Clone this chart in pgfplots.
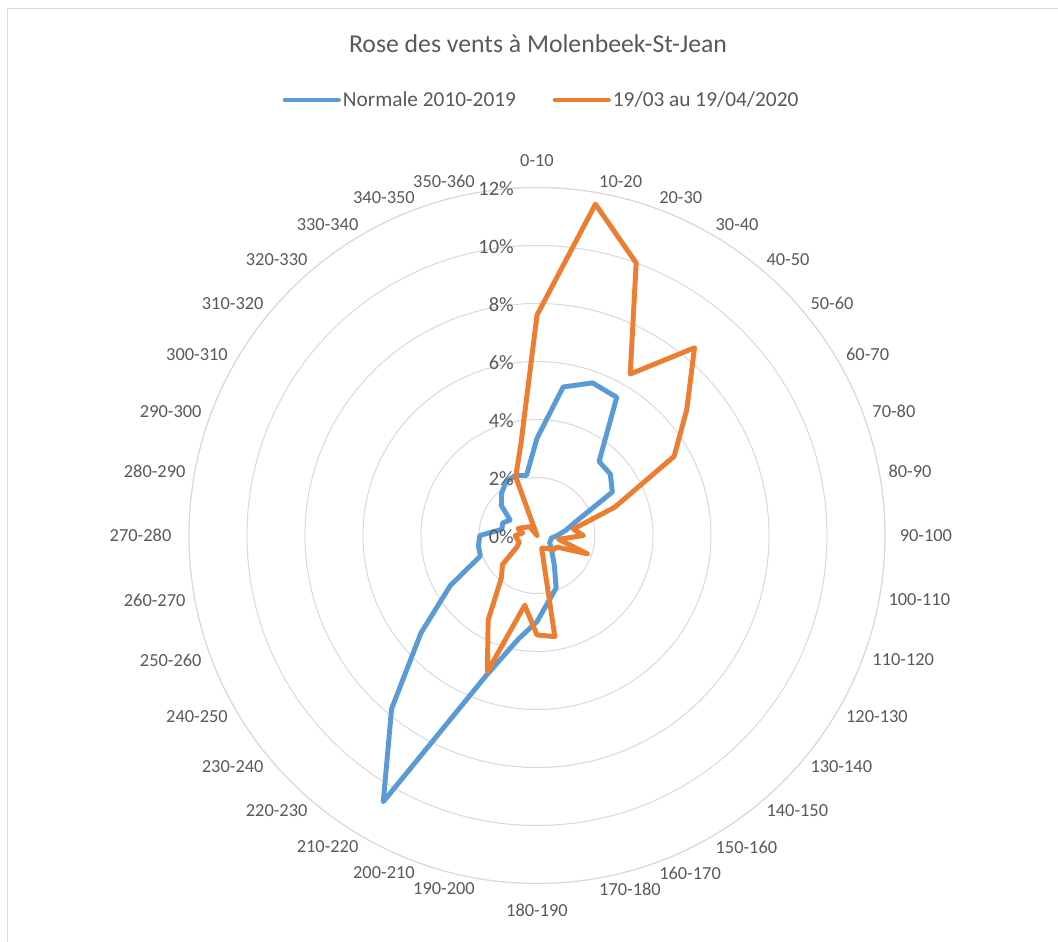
\documentclass[border=0pt]{standalone}
\usepackage{pgfplots}
\pgfplotsset{compat=1.18}
\usepgfplotslibrary{polar}
\usepackage{fontspec}
\setmainfont{Carlito}
\definecolor{cblue}{HTML}{5B9BD5}
\definecolor{corange}{HTML}{ED7D31}
\definecolor{cgrid}{HTML}{D9D9D9}
\definecolor{ctext}{HTML}{595959}
\begin{document}
\begin{tikzpicture}
\begin{polaraxis}[
  at={(0,0)}, anchor=center,
  scale only axis, width=522pt, height=522pt,
  xmin=0, xmax=360, ymin=0, ymax=12,
  xtick=\empty, ytick={2,4,6,8,10,12}, yticklabels={},
  ymajorgrids, xmajorgrids=false,
  grid style={cgrid, line width=0.75pt},
  x axis line style={cgrid, line width=0.75pt},
  y axis line style={draw=none},
  tick style={draw=none},
  clip=false,
  legend columns=2,
  legend cell align=left,
  legend style={at={(0.5065,1.1257)}, anchor=center, draw=none, fill=none,
    font=\fontsize{16}{19}\selectfont, text=ctext, inner sep=0pt,
    nodes={inner sep=1.5pt},
    /tikz/every even column/.append style={column sep=26pt}},
  legend image code/.code={\draw[#1] (0pt,0pt) -- (40pt,0pt);},
  every node/.append style={text=ctext},
]
\coordinate (C) at (axis cs:0,0);
\addplot[cblue, line width=3.7pt, line join=round, line cap=round, no marks] coordinates {
(90,3.35) (80,5.2) (70,5.6) (60,5.5) (50,3.33) (40,3.3) (30,3.0) (20,1.45) (10,1.0) (0,0.7)
(350,0.5) (340,0.5) (330,0.5) (320,0.63) (310,0.82) (300,1.2) (290,1.93) (280,2.3) (270,2.97)
(260,3.61) (250,5.15) (240,10.6) (230,7.8) (220,5.22) (210,3.45) (200,2.08) (190,2.05) (180,1.97)
(170,1.23) (160,1.26) (150,1.07) (140,1.6) (130,1.9) (120,2.14) (110,2.2) (100,2.1) (90,3.35)
};
\addlegendentry{Normale 2010-2019}
\addplot[corange, line width=3.7pt, line join=round, line cap=round, no marks] coordinates {
(90,7.6) (80,11.6) (70,10.0) (60,6.43) (50,8.45) (40,6.74) (30,5.46) (20,2.85) (10,1.27) (0,1.6)
(350,0.75) (340,1.85) (330,0.8) (320,0.75) (310,0.6) (300,0.5) (290,0.47) (280,3.54) (270,3.43)
(260,2.44) (250,5.0) (240,3.37) (230,1.91) (220,1.55) (210,0.8) (200,0.65) (190,0.7) (180,0.75)
(170,0.5) (160,0.7) (150,0.55) (140,0.45) (130,0.4) (120,0.0) (110,2.15) (100,3.2) (90,7.6)
};
\addlegendentry{19/03 au 19/04/2020}
% radial tick labels
\begin{scope}[every node/.style={anchor=east, inner sep=0pt, xshift=-17.25pt, yshift=-1.2pt, text=ctext, font=\fontsize{15.3}{18}\selectfont}]
\node at (axis cs:90,0) {0\%};
\node at (axis cs:90,2) {2\%};
\node at (axis cs:90,4) {4\%};
\node at (axis cs:90,6) {6\%};
\node at (axis cs:90,8) {8\%};
\node at (axis cs:90,10) {10\%};
\node at (axis cs:90,12) {12\%};
\end{scope}
% category labels
\begin{scope}[every node/.style={inner xsep=0pt, inner ysep=-3pt, text=ctext, font=\fontsize{13.8}{16}\selectfont}]
\node[anchor=south, inner ysep=0pt] at (axis cs:90,12.7) {0-10};
\node[anchor=south west] at (axis cs:80,12.3) {10-20};
\node[anchor=south west] at (axis cs:70,12.3) {20-30};
\node[anchor=south west] at (axis cs:60,12.3) {30-40};
\node[anchor=south west] at (axis cs:50,12.3) {40-50};
\node[anchor=south west] at (axis cs:40,12.3) {50-60};
\node[anchor=south west] at (axis cs:30,12.3) {60-70};
\node[anchor=south west] at (axis cs:20,12.3) {70-80};
\node[anchor=south west] at (axis cs:10,12.3) {80-90};
\node[anchor=west] at (axis cs:0,12.5) {90-100};
\node[anchor=north west] at (axis cs:350,12.3) {100-110};
\node[anchor=north west] at (axis cs:340,12.3) {110-120};
\node[anchor=north west] at (axis cs:330,12.3) {120-130};
\node[anchor=north west] at (axis cs:320,12.3) {130-140};
\node[anchor=north west] at (axis cs:310,12.3) {140-150};
\node[anchor=north west] at (axis cs:300,12.3) {150-160};
\node[anchor=north west] at (axis cs:290,12.3) {160-170};
\node[anchor=north west] at (axis cs:280,12.3) {170-180};
\node[anchor=north, inner ysep=0pt] at (axis cs:270,12.7) {180-190};
\node[anchor=north east] at (axis cs:260,12.3) {190-200};
\node[anchor=north east] at (axis cs:250,12.3) {200-210};
\node[anchor=north east] at (axis cs:240,12.3) {210-220};
\node[anchor=north east] at (axis cs:230,12.3) {220-230};
\node[anchor=north east] at (axis cs:220,12.3) {230-240};
\node[anchor=north east] at (axis cs:210,12.3) {240-250};
\node[anchor=north east] at (axis cs:200,12.3) {250-260};
\node[anchor=north east] at (axis cs:190,12.3) {260-270};
\node[anchor=east] at (axis cs:180,12.6) {270-280};
\node[anchor=south east] at (axis cs:170,12.3) {280-290};
\node[anchor=south east] at (axis cs:160,12.3) {290-300};
\node[anchor=south east] at (axis cs:150,12.3) {300-310};
\node[anchor=south east] at (axis cs:140,12.3) {310-320};
\node[anchor=south east] at (axis cs:130,12.3) {320-330};
\node[anchor=south east] at (axis cs:120,12.3) {330-340};
\node[anchor=south east] at (axis cs:110,12.3) {340-350};
\node[anchor=south east] at (axis cs:100,12.3) {350-360};
\end{scope}
\end{polaraxis}
\path (C) ++(0.75pt,368.6pt) node[inner sep=0pt, text=ctext, font=\fontsize{19.3}{23}\selectfont] {Rose des vents à Molenbeek-St-Jean};
\draw[cgrid, line width=0.75pt] (C) ++(-396.75pt,-304.875pt) -- ++(0pt,699.975pt) -- ++(787.5pt,0pt);
\pgfresetboundingbox
\path (C) ++(-402.75pt,-304.875pt) rectangle ++(793.5pt,706.5pt);
\end{tikzpicture}
\end{document}
